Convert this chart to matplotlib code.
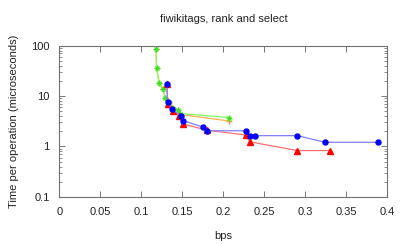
import matplotlib
matplotlib.use('Agg')
import matplotlib.pyplot as plt

plt.rcParams['font.family'] = ['Liberation Sans', 'DejaVu Sans']

# bps / time per operation (microseconds)
green_x = [0.1177, 0.1185, 0.1217, 0.1262, 0.129, 0.1335, 0.144, 0.147, 0.207]
green_y = [85, 35.4, 18.3, 13.8, 9.3, 7.5, 5.3, 4.5, 3.75]

orange_x = [0.1177, 0.1185, 0.1217, 0.1262, 0.129, 0.1335, 0.144, 0.147, 0.207]
orange_y = [85, 35.4, 18.3, 13.8, 9.3, 7.4, 5.2, 4.3, 3.2]

red_x = [0.131, 0.132, 0.138, 0.146, 0.151, 0.180, 0.227, 0.232, 0.290, 0.330]
red_y = [17.1, 6.9, 5.1, 4.0, 2.8, 2.1, 1.69, 1.24, 0.83, 0.83]

blue_x = [0.131, 0.132, 0.137, 0.148, 0.151, 0.175, 0.180, 0.227, 0.232, 0.238, 0.290, 0.324, 0.388]
blue_y = [17.1, 7.7, 5.5, 4.07, 3.24, 2.43, 2.05, 2.05, 1.64, 1.64, 1.64, 1.21, 1.21]

fig = plt.figure(figsize=(4.07, 2.44), dpi=100)
ax = fig.add_axes([0.146, 0.193, 0.806, 0.62])

ax.plot(orange_x, orange_y, color='#ffb050', lw=0.9, marker='+', ms=4.5, mew=0.9, mec='#f0a030')
ax.plot(green_x, green_y, color='#80ff60', lw=0.9, marker='x', ms=3.5, mew=0.9, mec='#40e020')
ax.plot(green_x, green_y, ls='none', marker='+', ms=4.5, mew=0.9, mec='#40e020')
ax.plot(red_x, red_y, color='#ff7070', lw=0.9, marker='^', ms=3.8, mfc='#ff0000', mec='#ff0000')
ax.plot(blue_x, blue_y, color='#8080ff', lw=0.9, marker='o', ms=3.6, mfc='#0000ff', mec='#0000ff')

ax.set_yscale('log')
ax.set_xlim(0, 0.4)
ax.set_ylim(0.1, 100)
ax.set_xticks([0, 0.05, 0.1, 0.15, 0.2, 0.25, 0.3, 0.35, 0.4])
ax.set_xticklabels(['0', '0.05', '0.1', '0.15', '0.2', '0.25', '0.3', '0.35', '0.4'])
ax.set_yticks([0.1, 1, 10, 100])
ax.set_yticklabels(['0.1', '1', '10', '100'])

ax.tick_params(which='both', direction='in', top=True, right=True, labelsize=8, colors='#606060', labelcolor='#222222')
ax.tick_params(which='major', length=4, width=0.6, pad=7)
ax.tick_params(which='minor', length=2, width=0.5)
for s in ax.spines.values():
    s.set_color('#707070')
    s.set_linewidth(0.8)

ax.set_xlabel('bps', fontsize=8, color='#222222', labelpad=10)
ax.set_ylabel('Time per operation (microseconds)', fontsize=8, color='#222222', labelpad=9)
ax.set_title('fiwikitags, rank and select', fontsize=8, color='#222222', pad=17)

fig.savefig('out.png', dpi=100)
